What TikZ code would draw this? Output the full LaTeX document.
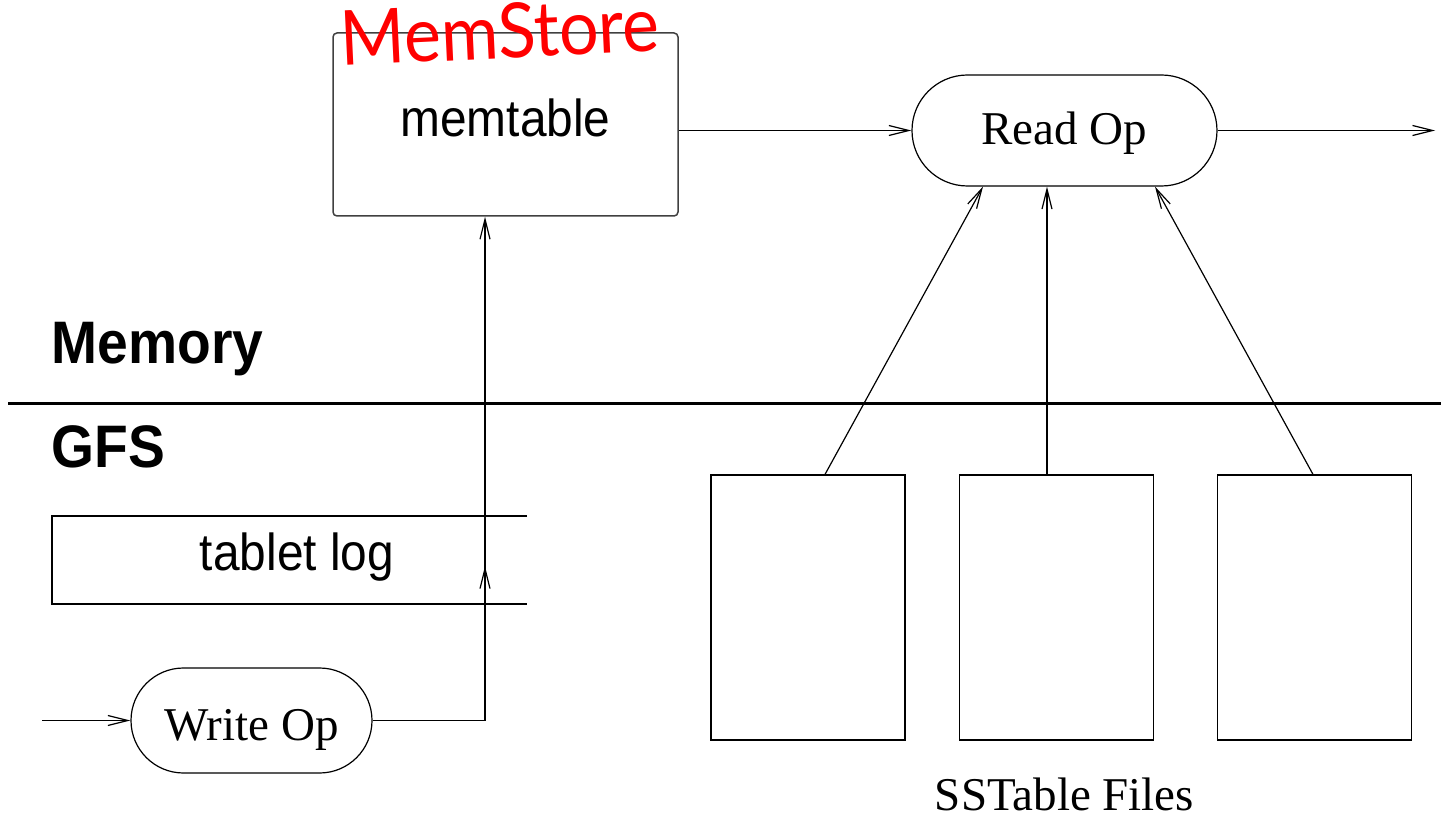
\documentclass[tikz,border=0pt]{standalone}
\usepackage{fontspec}
\setmainfont{Liberation Serif}
\setsansfont{Liberation Sans}
\newfontfamily\storefont{Lato}
\usetikzlibrary{arrows.meta,shapes.misc,calc,decorations.markings}

% condensed sans labels
\newcommand{\condsans}[1]{\scalebox{0.92}[1]{#1}}

\begin{document}
\begin{tikzpicture}[x=1pt,y=-1pt,
  line width=1.2pt,
  barb/.tip={Straight Barb[length=20pt,width=10pt,line width=1.2pt]},
  tip/.style={-barb},
  stadium/.style={rounded rectangle, draw, inner sep=0pt,
    font=\fontsize{47}{50}\selectfont, text depth=0pt},
  filebox/.style={rectangle, draw, minimum width=194pt, minimum height=265pt, inner sep=0pt},
  sanslabel/.style={font=\sffamily\fontsize{52}{56}\selectfont, inner sep=0pt},
  layerlabel/.style={font=\sffamily\bfseries\fontsize{60}{64}\selectfont, inner sep=0pt, anchor=base west},
  midarrow/.style={postaction={decorate}, decoration={markings,
    mark=at position #1 with {\arrow{barb}}}}
]
\useasboundingbox (0,0) rectangle (1441,818);

% memory / GFS boundary
\draw[line width=3pt] (8,403) -- (1441,403);
\node[layerlabel] (memory) at (51,363) {\condsans{Memory}};
\node[layerlabel] (gfs) at (51,467) {\condsans{GFS}};

% memtable in memory
\node[draw=black!75, line width=1.5pt, rounded corners=4pt, minimum width=345pt,
  minimum height=183pt, inner sep=0pt, sanslabel, text height=25pt, text depth=0pt]
  (mem) at (505.5,124.5) {\condsans{memtable}};
\node[font=\storefont\fontsize{76}{80}\selectfont, text=red, rotate=2.7,
  anchor=base west, inner sep=0pt] (store) at (341,66) {\scalebox{0.92}[1]{MemStore}};

% read path
\node[stadium, minimum width=305pt, minimum height=111pt, text height=29pt]
  (read) at (1064.5,130.5) {Read Op};
\coordinate (out) at (1435,130.5);
\draw[tip] (mem.east |- read.west) -- (read.west);
\draw[tip] (read.east) -- (out);

% SSTable files on GFS
\node[filebox] (s1) at (808,607.5) {};
\node[filebox] (s2) at (1056.5,607.5) {};
\node[filebox] (s3) at (1314.5,607.5) {};
\node[font=\fontsize{47}{50}\selectfont, anchor=base, inner sep=0pt]
  (files) at (1064.5,810) {SSTable Files};
\draw[tip] ([xshift=17pt]s1.north) -- ([xshift=-81.5pt]read.south);
\draw[tip] ([xshift=-9.5pt]s2.north) -- ([xshift=-17.5pt]read.south);
\draw[tip] ([xshift=-1.5pt]s3.north) -- ([xshift=90.5pt]read.south);

% tablet log (open on the right)
\coordinate (logtr) at (527,516);
\coordinate (logbr) at (527,604);
\draw (logtr) -- (52,516) -- (52,604) -- (logbr);
\node[sanslabel, anchor=base] (log) at (297,570) {\condsans{tablet log}};

% write path
\node[stadium, minimum width=241pt, minimum height=105pt, text height=39pt]
  (write) at (251.5,720.5) {Write Op};
\coordinate (in) at (42,720.5);
\draw[tip] (in) -- (write.west);
\draw[tip, midarrow=0.433] (write.east) -| ([xshift=-20.5pt]mem.south);
\end{tikzpicture}
\end{document}
